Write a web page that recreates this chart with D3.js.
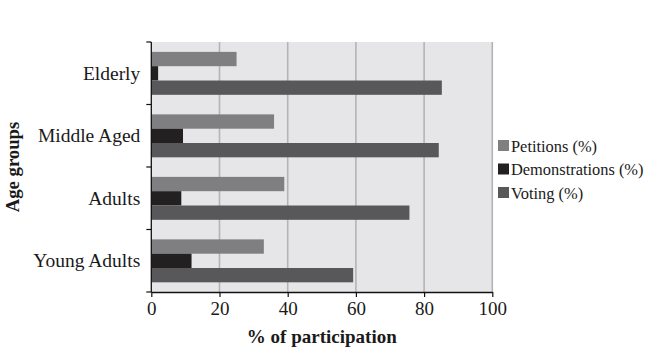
<!DOCTYPE html>
<html><head><meta charset="utf-8">
<script src="https://cdn.jsdelivr.net/npm/d3@7"></script>
<style>body{margin:0;background:#fff}svg{display:block}text{font-family:"Liberation Serif","Times New Roman",serif;fill:#1a1a1a}</style>
</head><body><svg id="c" width="649" height="357"></svg>
<script>
const categories = ["Elderly","Middle Aged","Adults","Young Adults"];
const seriesNames = ["Petitions (%)","Demonstrations (%)","Voting (%)"];
const petitions = [25, 36, 39, 33];
const demonstrations = [2, 9.3, 8.8, 11.8];
const voting = [85.2, 84.3, 75.7, 59.2];
const xTicks = [0,20,40,60,80,100];
const colors = ["#7f7f82","#222020","#58585b"];

const seriesVals = [petitions, demonstrations, voting];
const svg = d3.select("#c");
const L=151.3, R=492.3, T=42, B=292;
const x = d3.scaleLinear().domain([0,100]).range([L,R]);
const y0 = d3.scaleBand().domain(categories).range([T,B]).padding(0);
const bw = y0.bandwidth();
const y1 = d3.scaleBand().domain(seriesNames).range([bw*0.158, bw*0.845]).padding(0);

svg.append("rect").attr("x",L).attr("y",T).attr("width",R-L).attr("height",B-T).attr("fill","#e6e6e8");
svg.append("g").selectAll("line").data(xTicks.slice(1)).join("line")
  .attr("x1",d=>x(d)).attr("x2",d=>x(d)).attr("y1",T).attr("y2",B)
  .attr("stroke","#b4b4b6").attr("stroke-width",1.6);

const g = svg.append("g");
categories.forEach((c,ci)=>{
  seriesNames.forEach((s,si)=>{
    g.append("rect").attr("x",x(0)).attr("y",y0(c)+y1(s))
     .attr("width",x(seriesVals[si][ci])-x(0)).attr("height",y1.bandwidth())
     .attr("fill",colors[si]);
  });
});

// axes
const xa = svg.append("g").attr("transform",`translate(0,${B})`)
  .call(d3.axisBottom(x).tickValues(xTicks).tickSize(5).tickSizeOuter(0).tickPadding(5));
xa.select(".domain").attr("stroke","#111").attr("stroke-width",1.3);
xa.selectAll(".tick line").attr("stroke","#111").attr("stroke-width",1.2);
xa.selectAll("text").style("font-size","19px").attr("fill","#1a1a1a");

const ya = svg.append("g").attr("transform",`translate(${L},0)`)
  .call(d3.axisLeft(y0).tickSize(0).tickPadding(11));
ya.select(".domain").remove();
ya.selectAll("text").style("font-size","19.5px").attr("fill","#1a1a1a");
svg.append("line").attr("x1",L).attr("x2",L).attr("y1",T).attr("y2",B).attr("stroke","#111").attr("stroke-width",1.3);
const bounds = categories.map(c=>y0(c)).concat([B]);
svg.append("g").selectAll("line").data(bounds).join("line")
  .attr("x1",L-5).attr("x2",L).attr("y1",d=>d).attr("y2",d=>d).attr("stroke","#111").attr("stroke-width",1.2);

svg.append("text").attr("x",(L+R)/2).attr("y",343).attr("text-anchor","middle")
  .style("font-size","19px").style("font-weight","bold").text("% of participation");
svg.append("text").attr("transform",`translate(19,167) rotate(-90)`).attr("text-anchor","middle")
  .style("font-size","18.7px").style("font-weight","bold").text("Age groups");

const lg = svg.append("g");
seriesNames.forEach((s,i)=>{
  const yy = 146 + i*23.5;
  lg.append("rect").attr("x",498).attr("y",yy-6).attr("width",11).attr("height",11).attr("fill",colors[i]);
  lg.append("text").attr("x",511).attr("y",yy+5.5).style("font-size","16.4px").text(s);
});
</script></body></html>
